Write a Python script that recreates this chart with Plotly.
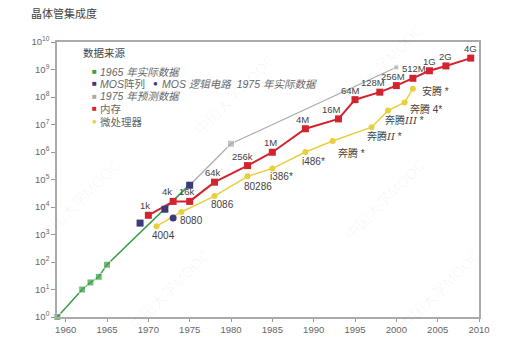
import math
import plotly.graph_objects as go

# ---------------- data ----------------
green_years = [1959, 1962, 1963, 1964, 1965, 1975]
green_vals = [1, 10, 18, 29, 80, 65000]

mos_array_years = [1969, 1972, 1975]
mos_array_vals = [2600, 8300, 62000]

mos_logic_years = [1973]
mos_logic_vals = [4000]

pred_years = [1975, 1980, 2000]
pred_vals = [62000, 2.0e6, 1.2e9]

mem_years = [1970, 1973, 1975, 1978, 1982, 1985, 1989, 1993, 1995, 1998, 2000, 2002, 2004, 2006, 2009]
mem_vals = [5.0e3, 1.6e4, 1.6e4, 8.0e4, 3.2e5, 9.8e5, 7.0e6, 1.6e7, 8.0e7, 1.5e8, 2.6e8, 4.8e8, 9.0e8, 1.35e9, 2.6e9]
mem_labels = ["1k", "4k", "16k", "64k", "256k", "1M", "4M", "16M", "64M", "128M", "256M", "512M", "1G", "2G", "4G"]

cpu_years = [1971, 1974, 1978, 1982, 1985, 1989, 1992.3, 1997, 1999, 2001, 2002]
cpu_vals = [2.0e3, 6.6e3, 2.5e4, 1.3e5, 2.5e5, 1.0e6, 2.5e6, 8.0e6, 3.2e7, 6.3e7, 2.0e8]
cpu_labels = ["4004", "8080", "8086", "80286", "i386*", "i486*", "奔腾 *",
              "奔腾<span style='font-family:DejaVu Serif'><i>II</i></span> *",
              "奔腾<span style='font-family:DejaVu Serif'><i>III</i></span> *",
              "奔腾 4*", "安腾 *"]

x_ticks = [1960, 1965, 1970, 1975, 1980, 1985, 1990, 1995, 2000, 2005, 2010]
y_exps = list(range(0, 11))

# ---------------- styles ----------------
GREEN = "#3a9e45"
NAVY = "#3b3a7c"
GRAY = "#aaaaaa"
RED = "#d2232f"
YEL = "#e9cf3e"
FONT = "Liberation Sans, Noto Sans CJK SC, sans-serif"

fig = go.Figure()

fig.add_trace(go.Scatter(x=green_years, y=green_vals, mode="lines+markers",
                         line=dict(color=GREEN, width=1.5),
                         marker=dict(symbol="square", color=GREEN, size=[7, 7, 7, 7, 7, 0]),
                         cliponaxis=False, showlegend=False))
fig.add_trace(go.Scatter(x=pred_years, y=pred_vals, mode="lines+markers",
                         line=dict(color=GRAY, width=1.2),
                         marker=dict(symbol="square", color=GRAY, size=[0, 7, 5]),
                         cliponaxis=False, showlegend=False))
fig.add_trace(go.Scatter(x=mem_years, y=mem_vals, mode="lines+markers",
                         line=dict(color=RED, width=2),
                         marker=dict(symbol="square", color=RED, size=7),
                         cliponaxis=False, showlegend=False))
fig.add_trace(go.Scatter(x=cpu_years, y=cpu_vals, mode="lines+markers",
                         line=dict(color=YEL, width=1.5),
                         marker=dict(symbol="circle", color=YEL, size=6),
                         cliponaxis=False, showlegend=False))
fig.add_trace(go.Scatter(x=mos_array_years, y=mos_array_vals, mode="markers",
                         marker=dict(symbol="square", color=NAVY, size=7),
                         cliponaxis=False, showlegend=False))
fig.add_trace(go.Scatter(x=mos_logic_years, y=mos_logic_vals, mode="markers",
                         marker=dict(symbol="circle", color=NAVY, size=7),
                         cliponaxis=False, showlegend=False))

ann = []
# memory labels (above-left of markers)
mem_xshift = [-3, -6, -3, -1, -5, -2, -3, -7, -5, -7, -3, 1, 0, 0, 0]
for x, y, t, dx in zip(mem_years, mem_vals, mem_labels, mem_xshift):
    ann.append(dict(x=x, y=math.log10(y), text=t, showarrow=False,
                    xanchor="center", yanchor="bottom", xshift=dx, yshift=2,
                    font=dict(size=9.5, color="#444", family=FONT)))
# cpu labels
cpu_off = [(7, -9), (10, -9), (8, -8), (10, -10), (9, -8), (8, -9), (19, -12), (13, -9), (16, -9), (21, -6), (23, -2)]
for x, y, t, (dx, dy) in zip(cpu_years, cpu_vals, cpu_labels, cpu_off):
    ann.append(dict(x=x, y=math.log10(y), text=t, showarrow=False,
                    xanchor="center", yanchor="middle", xshift=dx, yshift=dy,
                    font=dict(size=10, color="#444", family=FONT)))


# paper-coordinate helpers (plot x 57..479, y 42..317)
def px(xp):
    return (xp - 57) / 422.0


def py(yp):
    return (317.3 - yp) / 275.0


# title
ann.append(dict(xref="paper", yref="paper", x=px(29), y=py(13.5), xanchor="left", yanchor="middle",
                text="晶体管集成度", showarrow=False,
                font=dict(size=11, color="#444", family=FONT)))

LEG = "#666666"
ann.append(dict(xref="paper", yref="paper", x=px(81), y=py(53), xanchor="left", yanchor="middle",
                text="数据来源", showarrow=False, font=dict(size=10.5, color="#444", family=FONT)))
rows = [
    (72, [(90, "■", GREEN), (98, "<i>1965 年实际数据</i>", LEG)]),
    (84, [(90, "■", NAVY), (98, "<i>MOS</i>阵列", LEG), (151, "●", NAVY),
          (160, "<i>MOS 逻辑电路  1975 年实际数据</i>", LEG)]),
    (96.5, [(90, "■", GRAY), (98, "<i>1975 年预测数据</i>", LEG)]),
    (109, [(90, "■", RED), (98, "内存", LEG)]),
    (122, [(90, "●", YEL), (98, "微处理器", LEG)]),
]
for yp, items in rows:
    for xp, t, c in items:
        sz = 8 if t in ("■", "●") else 10.5
        ann.append(dict(xref="paper", yref="paper", x=px(xp), y=py(yp), xanchor="left", yanchor="middle",
                        text=t, showarrow=False, font=dict(size=sz, color=c, family=FONT)))

# faint watermarks
for (wx, wy) in [(80, 200), (385, 200), (383, 65), (235, 95), (170, 290), (440, 290)]:
    ann.append(dict(xref="paper", yref="paper", x=px(wx), y=py(wy), xanchor="center", yanchor="middle",
                    text="中国大学MOOC", showarrow=False, textangle=-45,
                    font=dict(size=15, color="rgba(0,0,0,0.04)", family=FONT)))

fig.update_layout(
    width=512, height=353,
    margin=dict(l=57, r=33, t=42, b=36),
    paper_bgcolor="white", plot_bgcolor="white",
    annotations=ann,
    font=dict(family=FONT),
    xaxis=dict(range=[1958.95, 2010], tickvals=x_ticks, ticks="outside", ticklen=3,
               tickcolor="#999", showgrid=False, zeroline=False,
               showline=True, linecolor="#aaaaaa", linewidth=1.5, mirror=True,
               tickfont=dict(size=9.5, color="#666")),
    yaxis=dict(type="log", range=[0, 10], tickvals=[10 ** e for e in y_exps],
               ticktext=["10<sup>%d</sup>" % e for e in y_exps],
               ticks="outside", ticklen=4, tickcolor="#999", showgrid=False, zeroline=False,
               showline=True, linecolor="#aaaaaa", linewidth=1.5, mirror=True,
               tickfont=dict(size=9.5, color="#666")),
)

fig.write_html("out.html")
